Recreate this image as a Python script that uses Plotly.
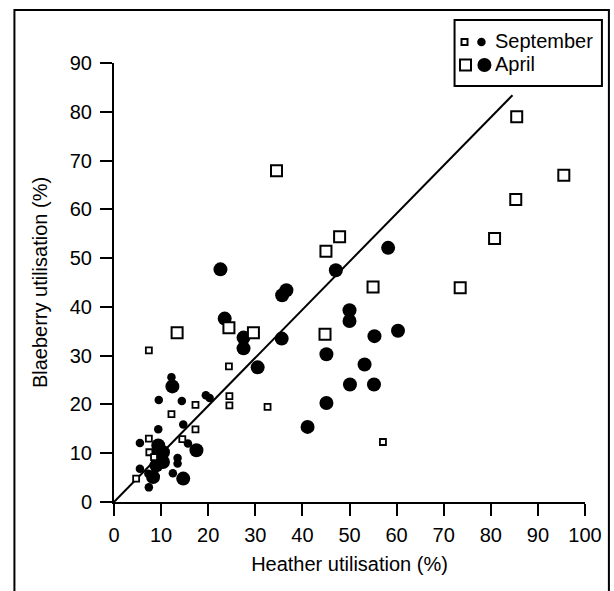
import plotly.graph_objects as go

# September (small symbols)
sep_sq_x = [7.4, 24.4, 24.5, 24.5, 32.6, 17.3, 12.2, 17.3, 14.5, 7.4, 7.5, 8.5, 4.7, 57.1]
sep_sq_y = [31.1, 27.8, 21.7, 19.8, 19.5, 19.9, 18.0, 14.9, 12.9, 13.0, 10.2, 9.2, 4.8, 12.3]
sep_ci_x = [12.2, 9.5, 14.4, 19.5, 20.3, 14.7, 9.4, 5.5, 15.7, 8.7, 13.5, 13.5, 5.5, 7.3, 12.5, 7.4]
sep_ci_y = [25.6, 20.9, 20.7, 21.9, 21.3, 15.9, 14.9, 12.1, 12.0, 9.9, 9.0, 7.9, 6.8, 5.8, 5.9, 3.0]

# April (large symbols)
apr_sq_x = [34.5, 47.9, 45.0, 24.4, 29.6, 13.4, 44.8, 55.0, 73.5, 85.5, 95.5, 85.3, 80.8]
apr_sq_y = [67.9, 54.4, 51.4, 35.7, 34.7, 34.7, 34.4, 44.1, 43.9, 79.0, 67.0, 62.0, 54.0]
apr_ci_x = [22.6, 47.1, 58.2, 35.7, 36.6, 23.5, 27.5, 27.5, 35.6, 30.5, 50.0, 50.0, 60.3, 55.3,
            45.1, 53.2, 50.1, 55.2, 45.1, 41.1, 12.4, 17.5, 14.7, 9.4, 9.7, 9.0, 10.4, 8.3, 10.4]
apr_ci_y = [47.7, 47.5, 52.1, 42.4, 43.4, 37.6, 33.7, 31.5, 33.5, 27.6, 39.3, 37.1, 35.1, 34.0,
            30.3, 28.2, 24.1, 24.1, 20.3, 15.4, 23.7, 10.6, 4.8, 11.6, 8.9, 7.5, 8.2, 5.1, 10.2]

line_x = [0, 84.6]
line_y = [0, 83.4]

x_ticks = [0, 10, 20, 30, 40, 50, 60, 70, 80, 90, 100]
y_ticks = [0, 10, 20, 30, 40, 50, 60, 70, 80, 90]

FONT = "Liberation Sans, Arial, Helvetica, sans-serif"

fig = go.Figure()
fig.add_trace(go.Scatter(x=line_x, y=line_y, mode="lines",
                         line=dict(color="black", width=2), showlegend=False,
                         hoverinfo="skip", cliponaxis=False))
fig.add_trace(go.Scatter(x=apr_ci_x, y=apr_ci_y, mode="markers", name="April",
                         marker=dict(symbol="circle", size=14, color="black", line=dict(width=0)),
                         showlegend=False, cliponaxis=False))
fig.add_trace(go.Scatter(x=sep_ci_x, y=sep_ci_y, mode="markers", name="September",
                         marker=dict(symbol="circle", size=8.5, color="black", line=dict(width=0)),
                         showlegend=False, cliponaxis=False))
fig.add_trace(go.Scatter(x=apr_sq_x, y=apr_sq_y, mode="markers", name="April",
                         marker=dict(symbol="square", size=11, color="white",
                                     line=dict(color="black", width=2)),
                         showlegend=False, cliponaxis=False))
fig.add_trace(go.Scatter(x=sep_sq_x, y=sep_sq_y, mode="markers", name="September",
                         marker=dict(symbol="square", size=6, color="white",
                                     line=dict(color="black", width=1.8)),
                         showlegend=False, cliponaxis=False))

# plot area geometry in pixels
L, R, T, B = 114, 587, 63, 502
W, H = R - L, B - T


def px2x(p):
    return (p - L) / W


def px2y(p):
    return (B - p) / H


shapes = []
# outer frame
shapes.append(dict(type="rect", xref="paper", yref="paper",
                   x0=px2x(14), x1=px2x(611), y0=px2y(640), y1=px2y(10),
                   line=dict(color="black", width=2), fillcolor="rgba(0,0,0,0)", layer="below"))
# legend box
shapes.append(dict(type="rect", xref="paper", yref="paper",
                   x0=px2x(456), x1=px2x(604), y0=px2y(86), y1=px2y(20),
                   line=dict(color="black", width=2), fillcolor="white"))


def sym(kind, cx, cy, size, filled):
    return dict(type=kind, xref="paper", yref="paper",
                xsizemode="pixel", ysizemode="pixel",
                xanchor=px2x(cx), yanchor=px2y(cy),
                x0=-size / 2, x1=size / 2, y0=-size / 2, y1=size / 2,
                line=dict(color="black", width=0 if filled else 2),
                fillcolor="black" if filled else "white")


shapes.append(sym("rect", 466, 42, 6, False))
shapes.append(sym("circle", 483, 42, 8.5, True))
shapes.append(sym("rect", 467, 65, 11, False))
shapes.append(sym("circle", 486, 65, 14, True))

annotations = [
    dict(text="September", xref="paper", yref="paper", x=px2x(495), y=px2y(41),
         xanchor="left", yanchor="middle", showarrow=False,
         font=dict(family=FONT, size=20, color="black")),
    dict(text="April", xref="paper", yref="paper", x=px2x(495), y=px2y(64),
         xanchor="left", yanchor="middle", showarrow=False,
         font=dict(family=FONT, size=20, color="black")),
]

fig.update_layout(
    width=614, height=591,
    margin=dict(l=L, r=614 - R, t=T, b=591 - B, pad=0),
    paper_bgcolor="white", plot_bgcolor="white",
    font=dict(family=FONT, size=20, color="black"),
    showlegend=False,
    shapes=shapes,
    annotations=annotations,
    xaxis=dict(range=[0, 100], tickvals=x_ticks, ticktext=[str(v) for v in x_ticks],
               showline=True, linecolor="black", linewidth=2,
               ticks="outside", ticklen=12, tickwidth=2, tickcolor="black",
               showgrid=False, zeroline=False, ticklabelstandoff=2,
               title=dict(text="Heather utilisation (%)", font=dict(size=20), standoff=12)),
    yaxis=dict(range=[0, 90], tickvals=y_ticks, ticktext=[str(v) for v in y_ticks],
               showline=True, linecolor="black", linewidth=2,
               ticks="outside", ticklen=12, tickwidth=2, tickcolor="black",
               showgrid=False, zeroline=False, ticklabelstandoff=4,
               title=dict(text="Blaeberry utilisation (%)", font=dict(size=20), standoff=17)),
)

fig.write_html("out.html")
